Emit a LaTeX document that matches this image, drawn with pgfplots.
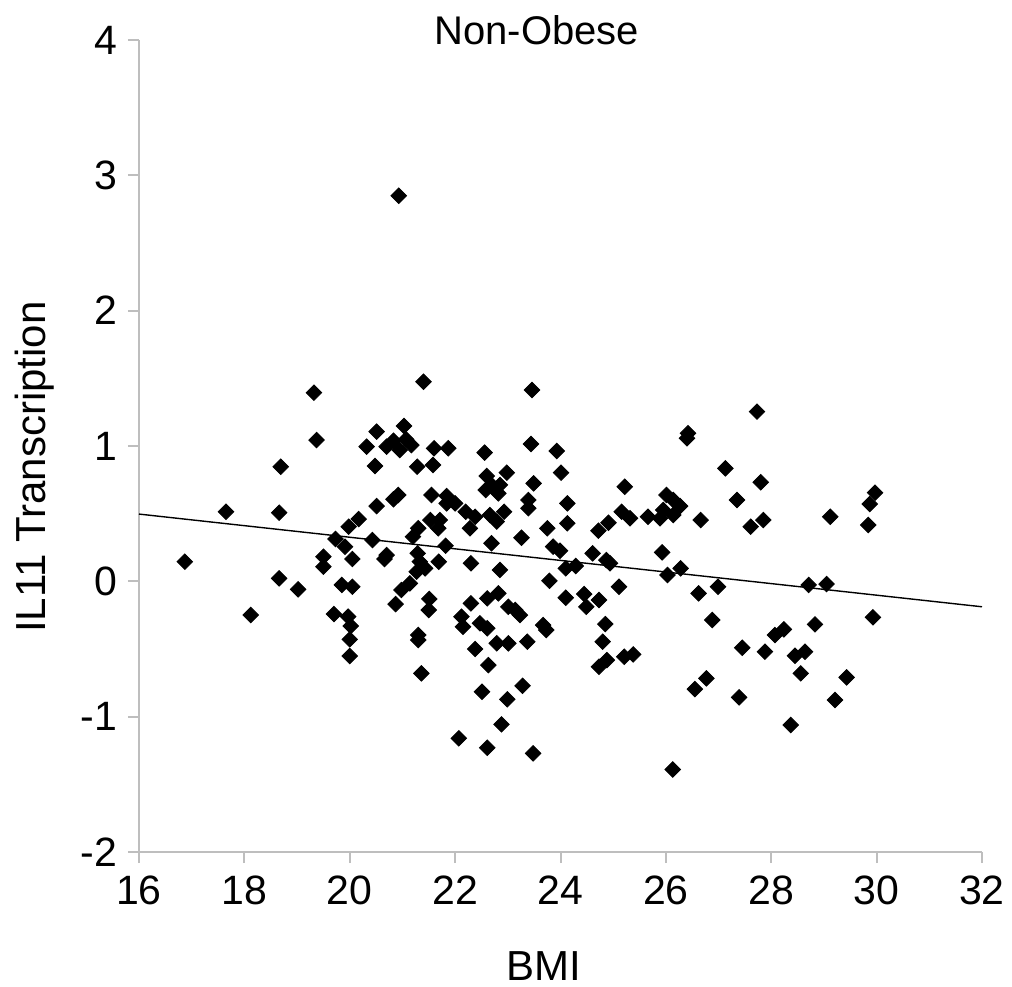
\documentclass[border=0pt]{standalone}
\usepackage{fontspec}
\setmainfont{Liberation Sans}
\usepackage{pgfplots}
\usepackage{pgfplotstable}
\pgfplotsset{compat=1.18}
\definecolor{axgray}{RGB}{190,190,190}

% BMI vs IL11 transcription
\pgfplotstableread{
x y
16.87 0.145
17.65 0.514
18.12 -0.249
18.66 0.022
18.66 0.507
18.69 0.847
19.02 -0.059
19.32 1.394
19.37 1.044
19.50 0.182
19.50 0.108
19.70 -0.242
19.73 0.313
19.85 -0.027
19.91 0.256
19.97 -0.261
19.98 0.404
20.02 -0.330
20.00 -0.429
20.00 -0.552
20.05 0.165
20.05 -0.040
20.17 0.460
20.32 0.995
20.43 0.305
20.48 0.852
20.51 1.106
20.51 0.556
20.70 0.995
20.70 0.194
20.66 0.165
20.83 1.039
20.83 0.606
20.87 -0.168
20.92 0.638
20.93 2.849
20.95 0.970
20.98 -0.064
21.03 1.148
21.07 1.049
21.14 -0.015
21.17 1.007
21.20 0.330
21.28 0.847
21.27 0.071
21.29 0.207
21.30 0.392
21.30 -0.397
21.30 -0.434
21.33 0.145
21.36 -0.680
21.40 1.475
21.43 0.096
21.51 -0.130
21.50 -0.212
21.53 0.453
21.55 0.638
21.58 0.860
21.60 0.983
21.68 0.392
21.69 0.145
21.71 0.453
21.82 0.263
21.84 0.630
21.84 0.576
21.87 0.983
22.00 0.576
22.07 -1.160
22.12 -0.261
22.15 -0.336
22.20 0.514
22.28 0.392
22.30 0.133
22.30 -0.163
22.38 0.477
22.38 -0.500
22.47 -0.310
22.51 -0.816
22.56 0.951
22.58 0.675
22.60 0.778
22.61 -0.126
22.61 -0.347
22.61 -1.230
22.63 -0.619
22.66 0.490
22.69 0.712
22.69 0.281
22.79 0.441
22.79 -0.458
22.82 0.650
22.82 -0.089
22.85 0.712
22.85 0.084
22.88 -1.057
22.93 0.514
22.98 0.803
22.99 -0.872
23.01 -0.188
23.01 -0.458
23.14 -0.212
23.23 -0.249
23.26 0.322
23.28 -0.772
23.37 -0.446
23.39 0.601
23.39 0.540
23.44 1.015
23.46 1.414
23.48 -1.271
23.49 0.724
23.67 -0.323
23.73 -0.360
23.75 0.392
23.79 0.004
23.86 0.256
23.93 0.963
23.99 0.226
24.01 0.803
24.10 0.096
24.10 -0.121
24.13 0.576
24.13 0.429
24.29 0.113
24.45 -0.094
24.49 -0.188
24.61 0.207
24.72 0.374
24.73 -0.138
24.73 -0.631
24.80 -0.446
24.85 -0.316
24.87 0.157
24.88 -0.582
24.91 0.433
24.94 0.133
25.11 -0.040
25.16 0.514
25.21 -0.557
25.22 0.699
25.32 0.466
25.38 -0.540
25.66 0.477
25.89 0.466
25.93 0.214
25.95 0.527
26.01 0.638
26.03 0.047
26.13 -1.390
26.14 0.601
26.14 0.490
26.27 0.556
26.28 0.096
26.42 1.094
26.40 1.057
26.55 -0.796
26.62 -0.089
26.66 0.453
26.77 -0.717
26.88 -0.286
26.99 -0.040
27.13 0.835
27.35 0.601
27.39 -0.857
27.45 -0.491
27.61 0.404
27.73 1.254
27.80 0.732
27.85 0.453
27.88 -0.520
28.07 -0.397
28.24 -0.355
28.37 -1.062
28.45 -0.550
28.56 -0.680
28.64 -0.520
28.71 -0.027
28.83 -0.318
29.05 -0.020
29.12 0.477
29.21 -0.877
29.43 -0.710
29.84 0.416
29.87 0.571
29.93 -0.266
29.97 0.655
}\bmidata

\begin{document}
\begin{tikzpicture}
\begin{axis}[
    name=ax,
    scale only axis,
    width=421.5pt, height=406pt,
    xmin=16, xmax=32, ymin=-2, ymax=4,
    xtick={16,18,...,32}, ytick={-2,-1,...,4},
    axis lines*=left,
    axis line style={axgray, line width=1pt},
    tick style={axgray, line width=1pt},
    tick align=outside,
    major tick length=5.5pt,
    /pgf/number format/assume math mode=true,
    ticklabel style={font=\fontsize{20.5}{24}\selectfont},
    xticklabel style={yshift=-3pt},
    yticklabel style={xshift=-2pt},
    xlabel={BMI},
    xlabel style={font=\fontsize{21}{25}\selectfont, inner sep=0pt, at={(axis description cs:0.48,0)}, anchor=base, yshift=-64pt},
    ylabel={IL11 Transcription},
    ylabel style={font=\fontsize{21}{25}\selectfont, inner sep=0pt, at={(axis description cs:-0.1115,0.474)}, anchor=base},
    clip=false,
]
\addplot[only marks, mark=square*, mark size=2.75pt,
    mark options={rotate=45, fill=black, draw=black}] table[x=x, y=y] {\bmidata};
\addplot[black, line width=0.7pt] coordinates {(16,0.497) (32,-0.188)};
\node[anchor=base, inner sep=0pt, font=\fontsize{20}{24}\selectfont, yshift=-2.5pt]
    at (rel axis cs:0.472,1) {Non-Obese};
\end{axis}
\path ([shift={(-69.5pt,-67pt)}]ax.south west) rectangle ([shift={(15pt,20pt)}]ax.north east);
\end{tikzpicture}
\end{document}
